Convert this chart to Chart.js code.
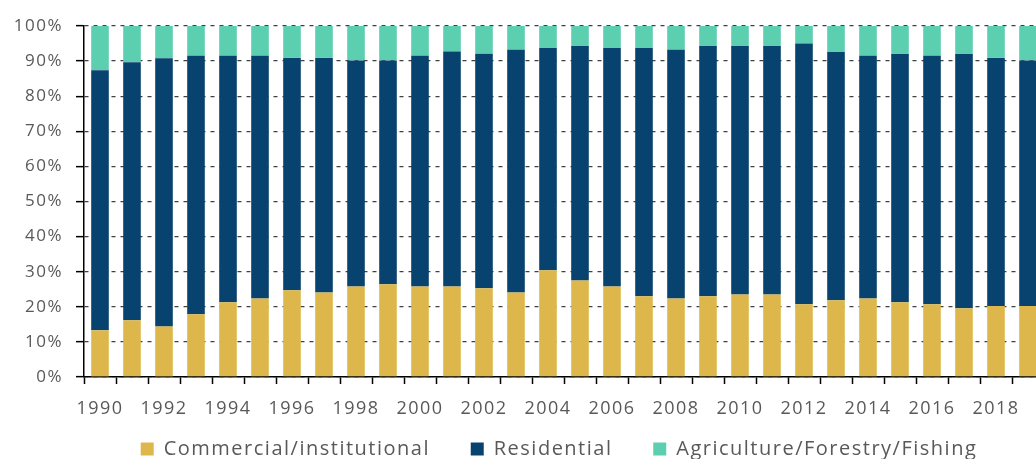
<!DOCTYPE html>
<html>
<head>
<meta charset="utf-8">
<script src="https://cdn.jsdelivr.net/npm/chart.js@4"></script>
<style>
  html, body { margin: 0; padding: 0; background: #fff; overflow: hidden; }
  #wrap { width: 1118px; height: 469px; }
</style>
</head>
<body>
<div id="wrap"><canvas id="chart"></canvas></div>
<script>
const years = ["1990","1991","1992","1993","1994","1995","1996","1997","1998","1999",
  "2000","2001","2002","2003","2004","2005","2006","2007","2008","2009",
  "2010","2011","2012","2013","2014","2015","2016","2017","2018","2019"];

// shares in %
const commercial = [13.3,16.2,14.4,17.9,21.3,22.4,24.7,24.1,25.8,26.4,
  25.8,25.8,25.3,24.1,30.4,27.5,25.8,23.0,22.4,23.0,
  23.5,23.5,20.7,21.9,22.4,21.3,20.7,19.6,20.2,20.2];
const residential = [74.1,73.5,76.4,73.6,70.2,69.1,66.2,66.8,64.4,63.8,
  65.7,66.9,66.8,69.1,63.3,66.8,67.9,70.7,70.8,71.3,
  70.8,70.8,74.3,70.7,69.1,70.7,70.8,72.4,70.7,70.0];
const agriculture = [12.6,10.3,9.2,8.5,8.5,8.5,9.1,9.1,9.8,9.8,
  8.5,7.3,7.9,6.8,6.3,5.7,6.3,6.3,6.8,5.7,
  5.7,5.7,5.0,7.4,8.5,8.0,8.5,8.0,9.1,9.8];

const yTicks = [0,10,20,30,40,50,60,70,80,90,100];

const FONT = "'Open Sans', sans-serif";
const textColor = "#595959";

// wider letter spacing, like the original rendering
const spacing = {
  id: "spacing",
  beforeUpdate(chart) { chart.ctx.letterSpacing = "1.5px"; },
  beforeDraw(chart) { chart.ctx.letterSpacing = "1.5px"; }
};

const ctx = document.getElementById("chart").getContext("2d");

new Chart(ctx, {
  type: "bar",
  data: {
    labels: years,
    datasets: [
      { label: "Commercial/institutional", data: commercial, backgroundColor: "#DDB74C" },
      { label: "Residential", data: residential, backgroundColor: "#08426E" },
      { label: "Agriculture/Forestry/Fishing", data: agriculture, backgroundColor: "#5CCFB0" }
    ]
  },
  plugins: [spacing],
  options: {
    responsive: true,
    maintainAspectRatio: false,
    animation: false,
    datasets: {
      bar: { categoryPercentage: 1, barPercentage: 0.55 }
    },
    layout: { padding: { top: 26, right: 0, left: 0, bottom: 0 } },
    scales: {
      x: {
        stacked: true,
        grid: {
          drawOnChartArea: false,
          drawTicks: true,
          tickLength: 7,
          tickColor: "#000",
          tickWidth: 1.5,
          offset: true
        },
        border: { color: "#000", width: 1.5 },
        ticks: {
          autoSkip: false,
          maxRotation: 0,
          color: textColor,
          font: { family: FONT, size: 18 },
          padding: 14,
          callback: function (v, i) {
            return i % 2 === 0 ? years[i] : "";
          }
        },
        afterFit: function (scale) { scale.height = 48; }
      },
      y: {
        stacked: true,
        min: 0,
        max: 100,
        afterBuildTicks: function (scale) {
          scale.ticks = yTicks.map(v => ({ value: v }));
        },
        grid: {
          color: "#404040",
          lineWidth: 1.3,
          drawTicks: true,
          tickLength: 8,
          tickColor: "#000",
          tickWidth: 1.5
        },
        border: { color: "#000", width: 1.5, dash: [4, 5] },
        ticks: {
          color: textColor,
          font: { family: FONT, size: 17 },
          padding: 13,
          callback: v => v + "%"
        },
        afterFit: function (scale) { scale.width = 84; }
      },
      // empty axis that only reserves the space past the cropped right edge
      y2: {
        type: "linear",
        position: "right",
        grid: { display: false },
        border: { display: false },
        ticks: { display: false },
        afterFit: function (scale) { scale.width = 74; }
      }
    },
    plugins: {
      legend: {
        position: "bottom",
        labels: {
          color: textColor,
          font: { family: FONT, size: 20 },
          boxWidth: 13,
          boxHeight: 13,
          padding: 14,
          generateLabels: function (chart) {
            const items = Chart.defaults.plugins.legend.labels.generateLabels(chart);
            items.forEach((it, i) => {
              if (i < items.length - 1) it.text += "    ";
            });
            return items;
          }
        }
      },
      tooltip: { enabled: false }
    }
  }
});
</script>
</body>
</html>
